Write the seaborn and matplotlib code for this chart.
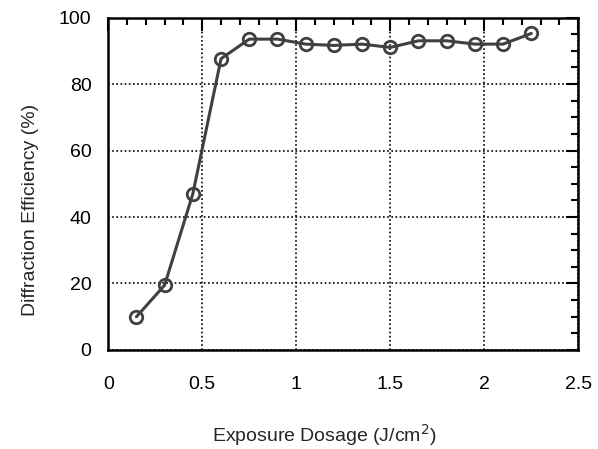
import pandas as pd
import seaborn as sns
import matplotlib.pyplot as plt
from matplotlib.ticker import MultipleLocator

# Data
dosage = [0.15, 0.3, 0.45, 0.6, 0.75, 0.9, 1.05, 1.2, 1.35, 1.5, 1.65, 1.8, 1.95, 2.1, 2.25]
efficiency = [10, 19.5, 47, 87.6, 93.5, 93.5, 92, 91.6, 92, 91, 93, 93, 92, 92, 95.2]

df = pd.DataFrame({'dosage': dosage, 'efficiency': efficiency})

sns.set_style('white')
plt.rcParams['font.family'] = ['Liberation Sans', 'DejaVu Sans']

fig = plt.figure(figsize=(5.98, 4.49), dpi=100)
ax = fig.add_axes([0.181, 0.2205, 0.786, 0.7405])

sns.lineplot(data=df, x='dosage', y='efficiency', ax=ax, color='#404040',
             linewidth=2.2, marker='o', markersize=9, markerfacecolor='none',
             markeredgecolor='#404040', markeredgewidth=2)

ax.set_xlim(0, 2.5)
ax.set_ylim(0, 100)
ax.xaxis.set_major_locator(MultipleLocator(0.5))
ax.xaxis.set_minor_locator(MultipleLocator(0.1))
ax.yaxis.set_major_locator(MultipleLocator(20))
ax.yaxis.set_minor_locator(MultipleLocator(5))
ax.set_xticks([0, 0.5, 1, 1.5, 2, 2.5], ['0', '0.5', '1', '1.5', '2', '2.5'])

ax.grid(True, which='major', color='black', linestyle=(0, (1, 1.5)), linewidth=1.2)
ax.tick_params(which='both', direction='in', top=True, right=True, colors='black',
               labelsize=14)
ax.tick_params(axis='x', which='major', pad=19)
ax.tick_params(axis='y', which='major', pad=12)
ax.tick_params(which='major', length=9, width=1.5)
ax.tick_params(which='minor', length=5, width=1.5)
for s in ax.spines.values():
    s.set_color('black')
    s.set_linewidth(1.8)

ax.set_xlabel('Exposure Dosage (J/cm$^2$)', fontsize=14, va='center')
ax.set_ylabel('Diffraction Efficiency (%)', fontsize=14, va='center')
ax.xaxis.set_label_coords(0.46, -0.255)
ax.yaxis.set_label_coords(-0.166, 0.42)

plt.savefig('out.png', dpi=100)
